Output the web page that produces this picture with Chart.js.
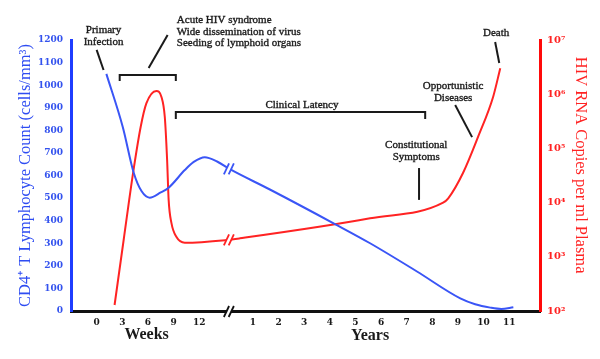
<!DOCTYPE html>
<html><head><meta charset="utf-8">
<script src="https://cdn.jsdelivr.net/npm/chart.js@4"></script>
<style>html,body{margin:0;padding:0;background:#fff}#wrap{width:600px;height:359px}</style>
</head><body><div id="wrap"><canvas id="c" width="600" height="359"></canvas></div>
<script>
// x axis: weeks 0..12 then (after a break) years 1..11, on one positional timeline
const xTickPositions = [0,1,2,3,4,6.1,7.1,8.1,9.1,10.1,11.1,12.1,13.1,14.1,15.1,16.1];
const xTickLabels = ['0','3','6','9','12','1','2','3','4','5','6','7','8','9','10','11'];
const cd4TickValues = [0,100,200,300,400,500,600,700,800,900,1000,1100,1200];
const rnaTickExponents = [2,3,4,5,6,7];

// CD4+ T lymphocyte count (cells/mm3)
const cd4Time  = [0.38,1.02,1.45,1.75,2.07,2.5,2.81,3.44,3.79,4.22,4.7,5.20,6.76,9.30,10.67,12.5,14.19,14.77,15.36,15.79,16.26];
const cd4Count = [1050,815,611,531,502,525,546,624,660,681,662,628,538,385,300,175,56,30,15,9,17];

// HIV RNA copies per ml plasma
const rnaTime   = [0.70,1.06,1.42,1.72,1.94,2.33,2.53,2.66,2.75,2.81,2.92,3.11,3.44,5.07,5.59,10.67,13.52,13.72,14.30,14.89,15.47,15.75];
const rnaCopies = [129,2130,34700,251000,676000,1150000,891000,380000,61700,11200,4170,2340,1820,2040,2190,5130,10000,12000,35500,166000,891000,3020000];

// annotations (positions in data units: timeline x, CD4 scale y)
const noteTexts = [
  {t:'Primary', u:0.27, v:1244, a:'center'},
  {t:'Infection', u:0.27, v:1191, a:'center'},
  {t:'Acute HIV syndrome', u:3.13, v:1289, a:'left'},
  {t:'Wide dissemination of virus', u:3.13, v:1235, a:'left'},
  {t:'Seeding of lymphoid organs', u:3.13, v:1187, a:'left'},
  {t:'Clinical Latency', u:8.01, v:912, a:'center'},
  {t:'Constitutional', u:12.47, v:735, a:'center'},
  {t:'Symptoms', u:12.47, v:682, a:'center'},
  {t:'Opportunistic', u:13.91, v:996, a:'center'},
  {t:'Diseases', u:13.91, v:943, a:'center'},
  {t:'Death', u:15.59, v:1231, a:'center'}
];
const leaderLines = [
  [0, 1156, 0.27, 1067],
  [2.03, 1076, 2.77, 1222],
  [12.58, 633, 12.58, 492],
  [13.99, 912, 14.65, 770],
  [15.55, 1191, 15.71, 1098]
];
const brackets = [
  {from:0.90, to:3.09, v:1045, drop:1018},
  {from:3.09, to:12.82, v:881, drop:850}
];
const periodLabels = [{t:'Weeks', u:1.95, v:-106},{t:'Years', u:10.67, v:-111}];
const breakAt = 5.16;
const breakCd4 = 629;
const breakRna = 2060;

const BLUE = '#3a55f6', BLUE_AX = '#1f3dff', RED = '#ff2323', RED_AX = '#ff0a0a';
const SUP = {'0':'\u2070','1':'\u00b9','2':'\u00b2','3':'\u00b3','4':'\u2074','5':'\u2075','6':'\u2076','7':'\u2077'};

const overlay = {
  id:'overlay',
  afterDraw(chart){
    const ctx = chart.ctx, xs = chart.scales.x, yl = chart.scales.yL, yr = chart.scales.yR;
    const X = u => xs.getPixelForValue(u), Y = v => yl.getPixelForValue(v);
    ctx.save();
    const drawBreak = (x, y, color) => {
      const h = 5.5, s = 2.6, d = 2.4;
      ctx.fillStyle = '#fff';
      ctx.beginPath();
      ctx.moveTo(x-d-s, y+h); ctx.lineTo(x-d+s, y-h); ctx.lineTo(x+d+s, y-h); ctx.lineTo(x+d-s, y+h);
      ctx.closePath(); ctx.fill();
      ctx.strokeStyle = color; ctx.lineWidth = 1.8;
      [-d, d].forEach(o => { ctx.beginPath(); ctx.moveTo(x+o-s, y+h); ctx.lineTo(x+o+s, y-h); ctx.stroke(); });
    };
    drawBreak(X(breakAt), chart.chartArea.bottom + 0.5, '#111');
    drawBreak(X(breakAt), Y(breakCd4), BLUE);
    drawBreak(X(breakAt), yr.getPixelForValue(breakRna), RED);

    ctx.strokeStyle = '#1a1a1a'; ctx.lineWidth = 2; ctx.lineCap = 'butt';
    leaderLines.forEach(l => { ctx.beginPath(); ctx.moveTo(X(l[0]), Y(l[1])); ctx.lineTo(X(l[2]), Y(l[3])); ctx.stroke(); });
    brackets.forEach(b => {
      ctx.beginPath();
      ctx.moveTo(X(b.from), Y(b.drop)); ctx.lineTo(X(b.from), Y(b.v));
      ctx.lineTo(X(b.to), Y(b.v)); ctx.lineTo(X(b.to), Y(b.drop));
      ctx.stroke();
    });
    ctx.fillStyle = '#1a1a1a'; ctx.strokeStyle = '#1a1a1a'; ctx.lineWidth = 0.35; ctx.textBaseline = 'middle';
    ctx.font = '11px "Liberation Serif", serif';
    noteTexts.forEach(n => { ctx.textAlign = n.a; ctx.fillText(n.t, X(n.u), Y(n.v)); ctx.strokeText(n.t, X(n.u), Y(n.v)); });
    ctx.font = 'bold 16px "Liberation Serif", serif'; ctx.textAlign = 'center';
    periodLabels.forEach(p => ctx.fillText(p.t, X(p.u), Y(p.v)));
    ctx.save();
    ctx.translate(chart.chartArea.right + 40, Y(646));
    ctx.rotate(Math.PI/2);
    ctx.fillStyle = RED; ctx.font = '16.5px "Liberation Serif", serif';
    ctx.fillText('HIV RNA Copies per ml Plasma', 0, 0);
    ctx.restore();
    ctx.restore();
  }
};

new Chart(document.getElementById('c'), {
  type:'line',
  data:{datasets:[
    {label:'CD4', data: cd4Time.map((t,i)=>({x:t, y:cd4Count[i]})), yAxisID:'yL', borderColor:BLUE, borderWidth:2, pointRadius:0, cubicInterpolationMode:'monotone', fill:false},
    {label:'RNA', data: rnaTime.map((t,i)=>({x:t, y:rnaCopies[i]})), yAxisID:'yR', borderColor:RED, borderWidth:2, pointRadius:0, cubicInterpolationMode:'monotone', fill:false}
  ]},
  options:{
    responsive:false, devicePixelRatio:1, animation:false,
    layout:{padding:{top:40,left:0,right:0,bottom:0}, autoPadding:false},
    plugins:{legend:{display:false}, tooltip:{enabled:false}},
    scales:{
      x:{type:'linear', position:'bottom', min:-1, max:17.3,
        grid:{display:false, drawTicks:false}, border:{color:'#111', width:3},
        afterBuildTicks: s => { s.ticks = xTickPositions.map(v=>({value:v})); },
        afterFit: s => { s.height = 48; },
        ticks:{autoSkip:false, maxRotation:0, padding:6, color:'#1a1a1a',
          font:{family:'"DejaVu Serif", serif', weight:'bold', size:9},
          callback:(v,i)=>xTickLabels[i]}
      },
      yL:{type:'linear', position:'left', min:0, max:1200,
        grid:{display:false, drawTicks:false}, border:{color:BLUE_AX, width:3},
        afterBuildTicks: s => { s.ticks = cd4TickValues.map(v=>({value:v})); },
        afterFit: s => { s.width = 71; },
        ticks:{padding:8, color:'#3352ee', font:{family:'"DejaVu Serif", serif', weight:'bold', size:9},
          callback:(v)=>String(v)},
        title:{display:true, text:'CD4\u207a T Lymphocyte Count (cells/mm\u00b3)', color:'#2e4cf2',
          font:{family:'"Liberation Serif", serif', size:16.5}, padding:{top:16,bottom:0}}
      },
      yR:{type:'logarithmic', position:'right', min:100, max:1e7,
        grid:{display:false, drawTicks:false}, border:{color:RED_AX, width:3},
        afterBuildTicks: s => { s.ticks = rnaTickExponents.map(e=>({value:Math.pow(10,e)})); },
        afterFit: s => { s.width = 60; },
        ticks:{padding:7, color:RED, font:{family:'"DejaVu Serif", serif', weight:'bold', size:10},
          callback:(v)=>{ const e = Math.round(Math.log10(v)); return '10' + SUP[String(e)]; }}
      }
    }
  },
  plugins:[overlay]
});
</script>
</body></html>
